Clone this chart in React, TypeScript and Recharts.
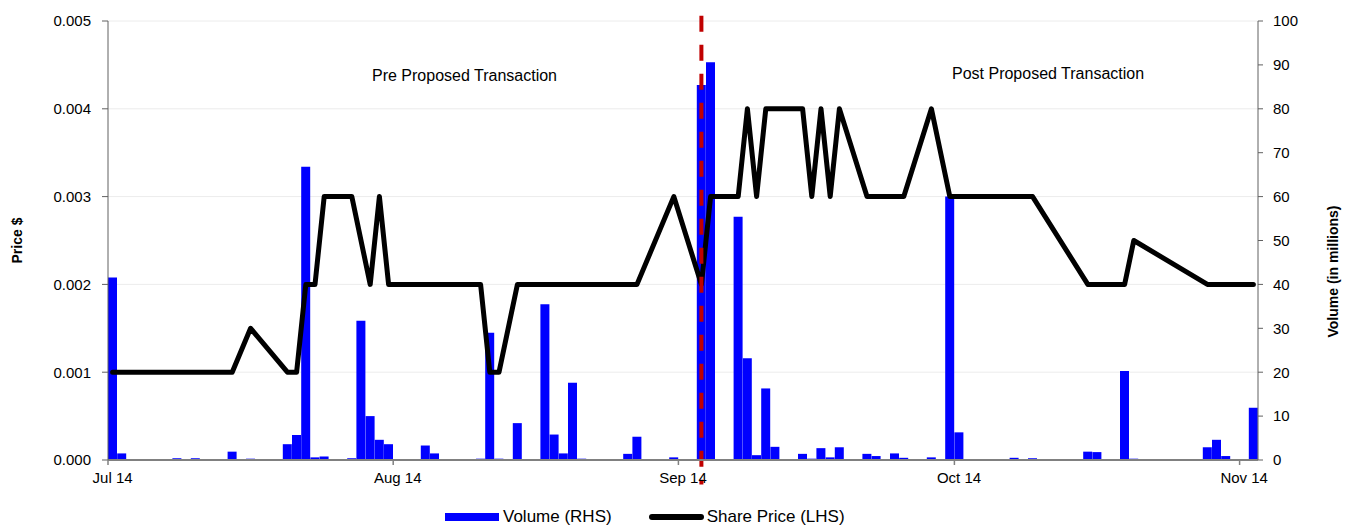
import React from "react";
import { ComposedChart, Bar, Line, XAxis, YAxis, CartesianGrid, ReferenceLine } from "recharts";

const FONT = '"Liberation Sans", Arial, sans-serif';

// Date axis: one slot per calendar day starting 1 Jul 2014
const slotCount = 125;
const monthLabels = ["Jul 14", "Aug 14", "Sep 14", "Oct 14", "Nov 14"];
const monthStartSlots = [0, 31, 62, 92, 123];

// Volume (in millions) - RHS
const volumeSlots = [0, 1, 7, 9, 13, 15, 19, 20, 21, 22, 23, 26, 27, 28, 29, 30, 34, 35, 40, 41, 42, 44, 47, 48, 49, 50, 51, 56, 57, 61, 64, 65, 68, 69, 70, 71, 72, 75, 76, 77, 78, 79, 82, 83, 85, 86, 89, 91, 92, 98, 100, 106, 107, 110, 111, 119, 120, 121, 124];
const volumeValues = [41.6, 1.5, 0.4, 0.4, 1.9, 0.3, 3.6, 5.7, 66.8, 0.6, 0.8, 0.4, 31.7, 10, 4.6, 3.6, 3.3, 1.5, 0.3, 29, 0.3, 8.4, 35.5, 5.8, 1.5, 17.6, 0.3, 1.4, 5.3, 0.6, 85.4, 90.6, 55.4, 23.2, 1.1, 16.3, 3.0, 1.4, 0.3, 2.7, 0.6, 2.9, 1.4, 0.9, 1.5, 0.5, 0.6, 60, 6.3, 0.5, 0.4, 1.9, 1.8, 20.3, 0.3, 2.9, 4.6, 0.9, 11.9];

// Share price ($) - LHS
const priceSlots = [0, 13, 15, 19, 20, 21, 22, 23, 26, 28, 29, 30, 40, 41, 42, 44, 57, 61, 64, 65, 68, 69, 70, 71, 75, 76, 77, 78, 79, 82, 86, 89, 91, 100, 106, 110, 111, 119, 124];
const priceValues = [0.001, 0.001, 0.0015, 0.001, 0.001, 0.002, 0.002, 0.003, 0.003, 0.002, 0.003, 0.002, 0.002, 0.001, 0.001, 0.002, 0.002, 0.003, 0.002, 0.003, 0.003, 0.004, 0.003, 0.004, 0.004, 0.003, 0.004, 0.003, 0.004, 0.003, 0.003, 0.004, 0.003, 0.003, 0.002, 0.002, 0.0025, 0.002, 0.002];

// Announcement of proposed transaction
const announceSlot = 64;

const priceTicks = [0, 0.001, 0.002, 0.003, 0.004, 0.005];
const volumeTicks = [0, 10, 20, 30, 40, 50, 60, 70, 80, 90, 100];

const data = Array.from({ length: slotCount }, (_, i) => {
    const vi = volumeSlots.indexOf(i);
    const pi = priceSlots.indexOf(i);
    return {
        day: i,
        volume: vi >= 0 ? volumeValues[vi] : null,
        price: pi >= 0 ? priceValues[pi] : null,
    };
});

// month tick: line on the day boundary, label centred on the day
const MonthTick = (props: any) => {
    const { x, y, payload } = props;
    const off = typeof payload?.offset === "number" ? payload.offset : 0;
    const label = monthLabels[monthStartSlots.indexOf(Number(payload.value))];
    return (
        <g>
            <line x1={x - off} x2={x - off} y1={y - 11} y2={y - 6} stroke="#808080" strokeWidth={1.5} />
            <text x={x} y={y} dy="0.8em" textAnchor="middle" fontSize={15} fontFamily={FONT} fill="#000">
                {label}
            </text>
        </g>
    );
};

const AxisTitle = (props: any) => {
    const { viewBox, text, dx, dy } = props;
    const cx = viewBox.x + dx;
    const cy = viewBox.y + viewBox.height / 2 + dy;
    return (
        <text
            x={cx}
            y={cy}
            transform={`rotate(-90 ${cx} ${cy})`}
            textAnchor="middle"
            dominantBaseline="central"
            fontSize={14}
            fontWeight="bold"
            fontFamily={FONT}
            fill="#000"
        >
            {text}
        </text>
    );
};

export default function App() {
    return (
        <div style={{ position: "absolute", left: 0, top: 0, width: 1349, height: 527, fontFamily: FONT, background: "#fff" }}>
            <ComposedChart
                width={1349}
                height={527}
                data={data}
                margin={{ top: 21, right: 0, bottom: 0, left: 0 }}
                barCategoryGap={0}
                barGap={0}
            >
                <CartesianGrid yAxisId="left" vertical={false} stroke="#ececec" />
                <XAxis
                    dataKey="day"
                    type="category"
                    ticks={monthStartSlots}
                    interval={0}
                    height={67}
                    tickSize={5}
                    tickMargin={6}
                    tickLine={false}
                    tick={<MonthTick />}
                    axisLine={{ stroke: "#808080", strokeWidth: 2 }}
                />
                <YAxis
                    yAxisId="left"
                    domain={[0, 0.005]}
                    ticks={priceTicks}
                    tickFormatter={(v: number) => v.toFixed(3)}
                    width={108}
                    tickSize={6}
                    tickMargin={11}
                    tick={{ fontSize: 15, fill: "#000", fontFamily: FONT }}
                    axisLine={{ stroke: "#606060" }}
                    tickLine={{ stroke: "#606060" }}
                    label={<AxisTitle text="Price $" dx={17} dy={0} />}
                />
                <YAxis
                    yAxisId="right"
                    orientation="right"
                    domain={[0, 100]}
                    ticks={volumeTicks}
                    width={91}
                    tickSize={5}
                    tickMargin={10}
                    tick={{ fontSize: 15, fill: "#000", fontFamily: FONT }}
                    axisLine={{ stroke: "#606060" }}
                    tickLine={{ stroke: "#606060" }}
                    label={<AxisTitle text="Volume (in millions)" dx={75} dy={31} />}
                />
                <Bar yAxisId="right" dataKey="volume" fill="#0000ff" isAnimationActive={false} />
                <Line
                    yAxisId="left"
                    type="linear"
                    dataKey="price"
                    stroke="#000"
                    strokeWidth={5}
                    strokeLinejoin="round"
                    strokeLinecap="round"
                    dot={false}
                    activeDot={false}
                    connectNulls
                    isAnimationActive={false}
                />
                <ReferenceLine
                    yAxisId="left"
                    segment={[{ x: announceSlot, y: 0.00506 }, { x: announceSlot, y: -0.00028 }]}
                    stroke="#c00000"
                    strokeWidth={4}
                    strokeDasharray="16 13"
                    ifOverflow="visible"
                />
            </ComposedChart>

            <div style={{ position: "absolute", left: 372, top: 67, fontSize: 16, lineHeight: "18px", whiteSpace: "nowrap" }}>
                Pre Proposed Transaction
            </div>
            <div style={{ position: "absolute", left: 952, top: 65, fontSize: 16, lineHeight: "18px", whiteSpace: "nowrap" }}>
                Post Proposed Transaction
            </div>

            {/* legend */}
            <div style={{ position: "absolute", left: 445, top: 508, height: 18, display: "flex", alignItems: "center", fontSize: 17, whiteSpace: "nowrap" }}>
                <span style={{ display: "inline-block", width: 54, height: 8, background: "#0000ff", marginRight: 4 }} />
                <span>Volume (RHS)</span>
                <span style={{ display: "inline-block", width: 55, height: 6, borderRadius: 3, background: "#000", marginLeft: 37, marginRight: 3 }} />
                <span>Share Price (LHS)</span>
            </div>
        </div>
    );
}
